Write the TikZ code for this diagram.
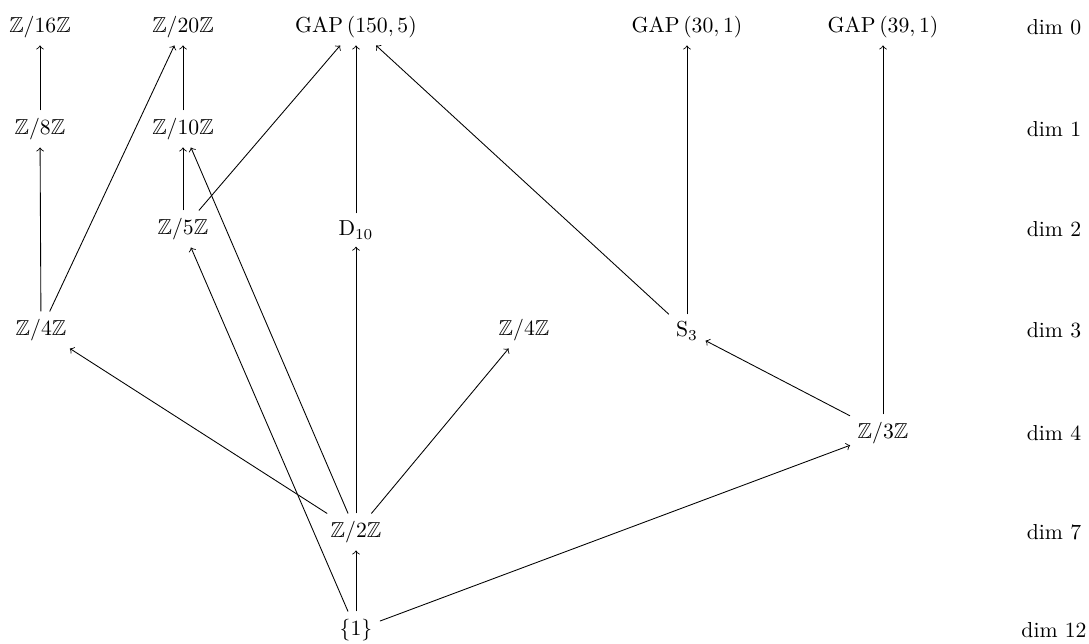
\documentclass[tikz,border=0pt]{standalone}
\usepackage{amssymb}
\begin{document}
\begin{tikzpicture}[x=0.0162cm,y=-0.0162cm,
  grp/.style={inner sep=3.33pt},
  dimlab/.style={inner sep=3.33pt},
  arr/.style={->}]
\useasboundingbox (0,0) rectangle (1089,644);
% dim 0
\node[grp] (z16)  at (40,27)  {$\mathbb{Z}/16\mathbb{Z}$};
\node[grp] (z20)  at (183,27) {$\mathbb{Z}/20\mathbb{Z}$};
\node[grp] (g150) at (356,27) {$\mathrm{GAP}\,(150,5)$};
\node[grp] (g30)  at (687,27) {$\mathrm{GAP}\,(30,1)$};
\node[grp] (g39)  at (883,27) {$\mathrm{GAP}\,(39,1)$};
% dim 1
\node[grp] (z8)   at (40,129)  {$\mathbb{Z}/8\mathbb{Z}$};
\node[grp] (z10)  at (183,129) {$\mathbb{Z}/10\mathbb{Z}$};
% dim 2
\node[grp] (z5)   at (183,229) {$\mathbb{Z}/5\mathbb{Z}$};
\node[grp] (d10)  at (356,230) {$\mathrm{D}_{10}$};
% dim 3
\node[grp] (z4a)  at (41,330)  {$\mathbb{Z}/4\mathbb{Z}$};
\node[grp] (z4b)  at (524,330) {$\mathbb{Z}/4\mathbb{Z}$};
\node[grp] (s3)   at (687,331) {$\mathrm{S}_3$};
% dim 4
\node[grp] (z3)   at (883,433) {$\mathbb{Z}/3\mathbb{Z}$};
% dim 7
\node[grp] (z2)   at (356,532) {$\mathbb{Z}/2\mathbb{Z}$};
% dim 12
\node[grp] (one)  at (356,630) {$\{1\}$};
% dimension labels
\node[dimlab] (d0)  at (1054,27)  {dim 0};
\node[dimlab] (d1)  at (1054,129) {dim 1};
\node[dimlab] (d2)  at (1054,229) {dim 2};
\node[dimlab] (d3)  at (1054,330) {dim 3};
\node[dimlab] (d4)  at (1054,433) {dim 4};
\node[dimlab] (d7)  at (1054,532) {dim 7};
\node[dimlab] (d12) at (1054,630) {dim 12};
% edges
\draw[arr] (z8) -- (z16);
\draw[arr] (z4a) -- (z8);
\draw[arr] (z4a) -- (z20);
\draw[arr] (z10) -- (z20);
\draw[arr] (z5) -- (z10);
\draw[arr] (z5) -- (g150);
\draw[arr] (d10) -- (g150);
\draw[arr] (s3) -- (g150);
\draw[arr] (s3) -- (g30);
\draw[arr] (z3) -- (g39);
\draw[arr] (z3) -- (s3);
\draw[arr] (z2) -- (z4a);
\draw[arr] (z2) -- (z10);
\draw[arr] (z2) -- (d10);
\draw[arr] (z2) -- (z4b);
\draw[arr] (one) -- (z2);
\draw[arr] (one) -- (z5);
\draw[arr] (one) -- (z3);
\end{tikzpicture}
\end{document}
